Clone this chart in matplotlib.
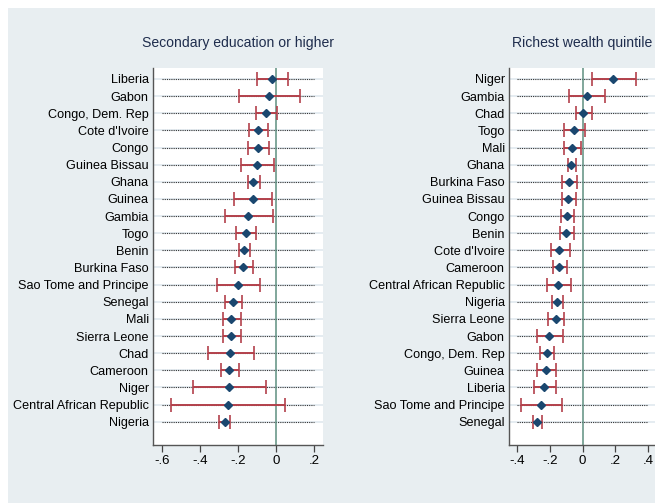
import matplotlib.pyplot as plt
from matplotlib.patches import Rectangle

# Coefficient estimates with 95% confidence intervals, one panel per indicator
edu_countries = ["Liberia", "Gabon", "Congo, Dem. Rep", "Cote d'Ivoire", "Congo",
                 "Guinea Bissau", "Ghana", "Guinea", "Gambia", "Togo", "Benin",
                 "Burkina Faso", "Sao Tome and Principe", "Senegal", "Mali",
                 "Sierra Leone", "Chad", "Cameroon", "Niger",
                 "Central African Republic", "Nigeria"]
edu_coef = [-0.019, -0.039, -0.054, -0.097, -0.097, -0.102, -0.119, -0.123, -0.147,
            -0.158, -0.170, -0.174, -0.202, -0.226, -0.235, -0.235, -0.242, -0.246,
            -0.249, -0.254, -0.270]
edu_lo = [-0.098, -0.195, -0.105, -0.144, -0.149, -0.182, -0.149, -0.219, -0.270,
          -0.209, -0.195, -0.216, -0.311, -0.267, -0.279, -0.279, -0.356, -0.288,
          -0.435, -0.554, -0.298]
edu_hi = [0.061, 0.126, 0.003, -0.042, -0.037, -0.012, -0.086, -0.019, -0.016,
          -0.104, -0.139, -0.123, -0.083, -0.177, -0.186, -0.186, -0.117, -0.196,
          -0.054, 0.049, -0.242]

rich_countries = ["Niger", "Gambia", "Chad", "Togo", "Mali", "Ghana", "Burkina Faso",
                  "Guinea Bissau", "Congo", "Benin", "Cote d'Ivoire", "Cameroon",
                  "Central African Republic", "Nigeria", "Sierra Leone", "Gabon",
                  "Congo, Dem. Rep", "Guinea", "Liberia", "Sao Tome and Principe",
                  "Senegal"]
rich_coef = [0.187, 0.027, 0.002, -0.051, -0.065, -0.072, -0.082, -0.086, -0.096,
             -0.100, -0.141, -0.141, -0.148, -0.156, -0.164, -0.205, -0.219, -0.225,
             -0.236, -0.256, -0.277]
rich_lo = [0.058, -0.084, -0.039, -0.111, -0.113, -0.090, -0.125, -0.125, -0.131,
           -0.137, -0.195, -0.182, -0.217, -0.188, -0.209, -0.277, -0.258, -0.281,
           -0.297, -0.377, -0.302]
rich_hi = [0.329, 0.140, 0.056, 0.017, -0.010, -0.041, -0.031, -0.037, -0.053,
           -0.055, -0.078, -0.094, -0.072, -0.119, -0.111, -0.121, -0.174, -0.160,
           -0.164, -0.125, -0.248]

edu_ticks = [-0.6, -0.4, -0.2, 0, 0.2]
rich_ticks = [-0.4, -0.2, 0, 0.2, 0.4]

BG = "#e8eef1"
NAVY = "#1a476f"
RED = "#b3414b"
ZERO = "#5e8f80"

plt.rcParams["font.family"] = ["Liberation Sans", "DejaVu Sans"]

fig = plt.figure(figsize=(6.55, 5.03), dpi=100, facecolor="white")
fig.patches.append(Rectangle((8 / 655, 0), 1, (503 - 8) / 503,
                             transform=fig.transFigure, facecolor=BG,
                             edgecolor="none", zorder=-10))


def tick_label(v):
    if v == 0:
        return "0"
    s = f"{v:.1f}"
    return s.replace("0.", ".")


def panel(rect, title, title_x, title_ha, names, coef, lo, hi, ticks, xlim):
    ax = fig.add_axes(rect)
    ax.set_facecolor("white")
    ys = list(range(len(names)))
    for y in ys:
        ax.axhline(y, color="#e0e9ef", lw=1.2, zorder=0)
        ax.plot([ticks[0], ticks[-1]], [y, y], color="#333333", lw=0.8,
                ls=(0, (1, 1)), zorder=1)
    ax.axvline(0, color=ZERO, lw=1.1, zorder=2)
    xerr = [[c - l for c, l in zip(coef, lo)], [h - c for c, h in zip(coef, hi)]]
    ax.errorbar(coef, ys, xerr=xerr, fmt="none", ecolor=RED, elinewidth=1.4,
                capsize=5, capthick=1.2, zorder=3)
    ax.plot(coef, ys, "D", color=NAVY, markersize=4.3, zorder=4)
    ax.set_xlim(*xlim)
    ax.set_ylim(len(names) - 1 + 1.36, -0.64)
    ax.set_yticks(ys)
    ax.set_yticklabels(names, fontsize=9.1)
    ax.set_xticks(ticks)
    ax.set_xticklabels([tick_label(t) for t in ticks], fontsize=9.5)
    ax.tick_params(axis="y", length=0, pad=3)
    ax.tick_params(axis="x", length=5, width=0.9, color="#444444", pad=2)
    for s in ["top", "right"]:
        ax.spines[s].set_visible(False)
    for s in ["left", "bottom"]:
        ax.spines[s].set_color("#555555")
        ax.spines[s].set_linewidth(1.0)
    fig.text(title_x / 655, 1 - 43 / 503, title, ha=title_ha, va="center",
             fontsize=10.1, color="#1f2d4d")
    return ax


panel([153 / 655, 58 / 503, 170 / 655, 377 / 503], "Secondary education or higher",
      238, "center", edu_countries, edu_coef, edu_lo, edu_hi, edu_ticks,
      (-0.647, 0.247))
panel([509 / 655, 58 / 503, 148 / 655, 377 / 503], "Richest wealth quintile",
      652, "right", rich_countries, rich_coef, rich_lo, rich_hi, rich_ticks,
      (-0.449, 0.455))

fig.savefig("out.png", dpi=100, facecolor="white")
